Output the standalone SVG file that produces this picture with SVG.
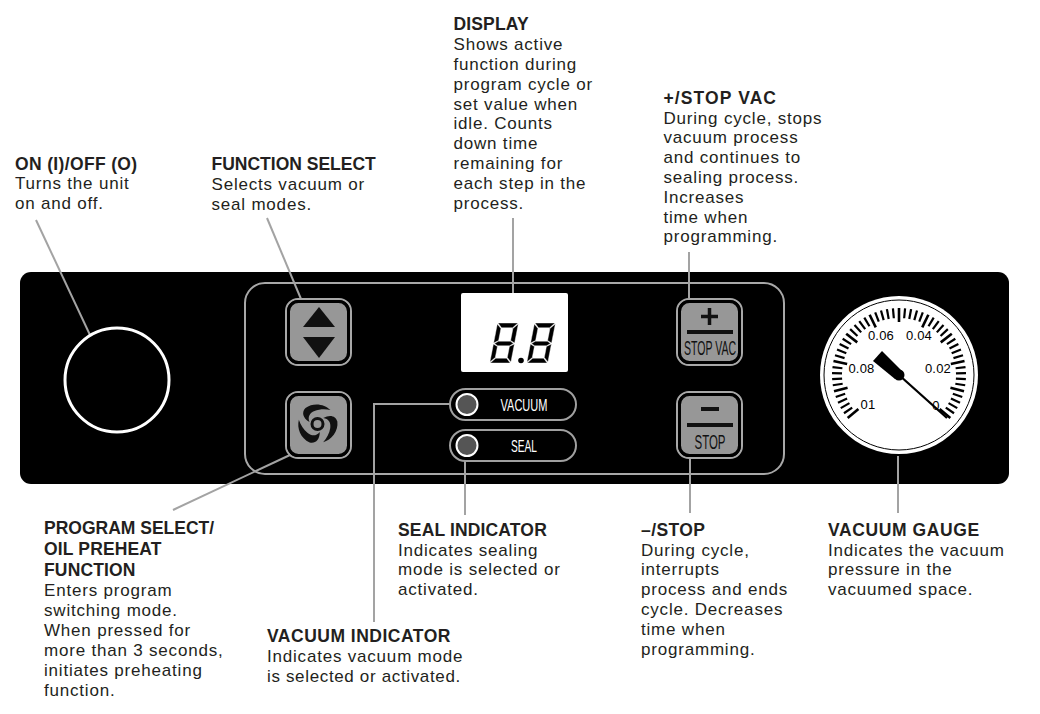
<svg xmlns="http://www.w3.org/2000/svg" xmlns:xlink="http://www.w3.org/1999/xlink" width="1040" height="714" viewBox="0 0 1040 714">
<style>
text{font-family:"Liberation Sans",Arial,sans-serif;font-size:17px;fill:#231f20;letter-spacing:.8px}
.b{font-weight:700;font-size:17.5px;letter-spacing:.15px}
.lead{fill:none;stroke:#a3a3a3;stroke-width:2}
.btn{fill:#979797;stroke:#000;stroke-width:3}
.btno{fill:none;stroke:#a8a8a8;stroke-width:2}
.pill{fill:#000;stroke:#a0a0a0;stroke-width:2}
.led{fill:#555;stroke:#fff;stroke-width:2}
.lab{fill:#fff;font-size:17px;letter-spacing:0;text-anchor:middle}
.key{fill:#111;font-size:21px;letter-spacing:0;text-anchor:middle}
.gn{fill:#000;font-size:13px;letter-spacing:.2px;text-anchor:middle}
.seg{fill:#000;stroke:#fff;stroke-width:.4}
.mi{stroke:#000;stroke-width:2.200}
.ma{stroke:#000;stroke-width:2.600}
</style>
<defs>
<line id="mi" class="mi" x1="899" y1="308" x2="899" y2="318"/>
<line id="ma" class="ma" x1="899" y1="308" x2="899" y2="322"/>
<g id="d8">
<path class="seg" d="M0.500 0H20.500L16 4.800H5Z"/>
<path class="seg" d="M0 1L4.500 5.500V17.500L0 20Z"/>
<path class="seg" d="M21 1L16.500 5.500V17.500L21 20Z"/>
<path class="seg" d="M1 20.500L4.500 18.200H16.500L20 20.500L16.500 22.800H4.500Z"/>
<path class="seg" d="M0 21L4.500 23.500V34.500L0 39Z"/>
<path class="seg" d="M21 21L16.500 23.500V34.500L21 39Z"/>
<path class="seg" d="M0.500 40H20.500L16 35.200H5Z"/>
</g>
<path id="blade" d="M13-14C7-20-4-22-12-16C-16-12-15-6-8-2C-10-7-8-11-3-13C2-15 8-15 13-14Z" fill="#111"/>
</defs>

<rect id="panel" x="20" y="272" width="989" height="212" rx="11" fill="#000"/>
<rect id="inner-frame" x="245" y="283" width="539" height="191" rx="20" fill="none" stroke="#a8a8a8" stroke-width="2"/>

<g id="connectors">
<path class="lead" d="M36 220L90 335"/>
<path class="lead" d="M267 218L301 299"/>
<path class="lead" d="M513 218V293"/>
<path class="lead" d="M689 252V298"/>
<path class="lead" d="M173 510L290 455"/>
<path class="lead" d="M374 622V404H450"/>
<path class="lead" d="M465 460V515"/>
<path class="lead" d="M690 458V513"/>
<path class="lead" d="M898 456V513"/>
</g>

<g id="power"><circle cx="117" cy="380" r="52" fill="#000" stroke="#fff" stroke-width="3"/></g>

<g id="function-select">
<rect class="btno" x="286" y="299" width="65" height="66" rx="12"/>
<rect class="btn" x="288.500" y="301.500" width="60" height="61" rx="10"/>
<path d="M319 307L303 327H335Z" fill="#111"/><path d="M303 337H335L319 358Z" fill="#111"/>
</g>

<g id="program-select">
<rect class="btno" x="286" y="392" width="65" height="66" rx="12"/>
<rect class="btn" x="288.500" y="394.500" width="60" height="61" rx="10"/>
<g transform="translate(317.500 424)">
<use href="#blade" xlink:href="#blade"/>
<use href="#blade" xlink:href="#blade" transform="rotate(120)"/>
<use href="#blade" xlink:href="#blade" transform="rotate(240)"/>
<circle r="5.500" fill="none" stroke="#111" stroke-width="3"/>
</g>
</g>

<g id="display">
<rect x="461" y="293" width="107" height="79" rx="2" fill="#fff"/>
<g transform="translate(497.500 323) skewX(-11)"><use href="#d8" xlink:href="#d8"/><use href="#d8" xlink:href="#d8" transform="translate(37 0)"/></g>
<circle cx="521" cy="360.500" r="2.800" fill="#000"/>
</g>

<g id="vacuum-indicator">
<rect class="pill" x="450" y="389" width="126" height="31" rx="15.500"/>
<circle class="led" cx="467" cy="404.500" r="10.500"/>
<text class="lab" x="524" y="411" textLength="47" lengthAdjust="spacingAndGlyphs">VACUUM</text>
</g>
<g id="seal-indicator">
<rect class="pill" x="450" y="430" width="126" height="31" rx="15.500"/>
<circle class="led" cx="467" cy="445.500" r="10.500"/>
<text class="lab" x="524" y="451.500" textLength="26" lengthAdjust="spacingAndGlyphs">SEAL</text>
</g>

<g id="plus-button">
<rect class="btno" x="677" y="299" width="65" height="66" rx="12"/>
<rect class="btn" x="679.500" y="301.500" width="60" height="61" rx="10"/>
<path d="M701 316.500H718M709.500 308V325" stroke="#111" stroke-width="3.500" fill="none"/>
<rect x="687" y="330" width="46" height="4" fill="#111"/>
<text class="key" x="710" y="355" textLength="52" lengthAdjust="spacingAndGlyphs">STOP VAC</text>
</g>
<g id="minus-button">
<rect class="btno" x="677" y="392" width="65" height="66" rx="12"/>
<rect class="btn" x="679.500" y="394.500" width="60" height="61" rx="10"/>
<rect x="701" y="407" width="18" height="4" fill="#111"/>
<rect x="687" y="423" width="46" height="4" fill="#111"/>
<text class="key" x="710" y="449" textLength="31" lengthAdjust="spacingAndGlyphs">STOP</text>
</g>

<g id="gauge">
<circle cx="899" cy="375" r="79" fill="#fff"/>
<circle cx="899" cy="375" r="75" fill="none" stroke="#000" stroke-width="1"/>
<g>
<use href="#ma" xlink:href="#ma"/>
<use href="#mi" xlink:href="#mi" transform="rotate(5.200 899 375)"/><use href="#mi" xlink:href="#mi" transform="rotate(10.400 899 375)"/><use href="#mi" xlink:href="#mi" transform="rotate(15.600 899 375)"/><use href="#mi" xlink:href="#mi" transform="rotate(20.800 899 375)"/>
<use href="#ma" xlink:href="#ma" transform="rotate(26 899 375)"/>
<use href="#mi" xlink:href="#mi" transform="rotate(31.200 899 375)"/><use href="#mi" xlink:href="#mi" transform="rotate(36.400 899 375)"/><use href="#mi" xlink:href="#mi" transform="rotate(41.600 899 375)"/><use href="#mi" xlink:href="#mi" transform="rotate(46.800 899 375)"/>
<use href="#ma" xlink:href="#ma" transform="rotate(52 899 375)"/>
<use href="#mi" xlink:href="#mi" transform="rotate(57.200 899 375)"/><use href="#mi" xlink:href="#mi" transform="rotate(62.400 899 375)"/><use href="#mi" xlink:href="#mi" transform="rotate(67.600 899 375)"/><use href="#mi" xlink:href="#mi" transform="rotate(72.800 899 375)"/>
<use href="#ma" xlink:href="#ma" transform="rotate(78 899 375)"/>
<use href="#mi" xlink:href="#mi" transform="rotate(83.200 899 375)"/><use href="#mi" xlink:href="#mi" transform="rotate(88.400 899 375)"/><use href="#mi" xlink:href="#mi" transform="rotate(93.600 899 375)"/><use href="#mi" xlink:href="#mi" transform="rotate(98.800 899 375)"/>
<use href="#ma" xlink:href="#ma" transform="rotate(104 899 375)"/>
<use href="#mi" xlink:href="#mi" transform="rotate(109.200 899 375)"/><use href="#mi" xlink:href="#mi" transform="rotate(114.400 899 375)"/><use href="#mi" xlink:href="#mi" transform="rotate(119.600 899 375)"/><use href="#mi" xlink:href="#mi" transform="rotate(124.800 899 375)"/>
<use href="#ma" xlink:href="#ma" transform="rotate(130 899 375)"/>
<use href="#mi" xlink:href="#mi" transform="rotate(-5.200 899 375)"/><use href="#mi" xlink:href="#mi" transform="rotate(-10.400 899 375)"/><use href="#mi" xlink:href="#mi" transform="rotate(-15.600 899 375)"/><use href="#mi" xlink:href="#mi" transform="rotate(-20.800 899 375)"/>
<use href="#ma" xlink:href="#ma" transform="rotate(-26 899 375)"/>
<use href="#mi" xlink:href="#mi" transform="rotate(-31.200 899 375)"/><use href="#mi" xlink:href="#mi" transform="rotate(-36.400 899 375)"/><use href="#mi" xlink:href="#mi" transform="rotate(-41.600 899 375)"/><use href="#mi" xlink:href="#mi" transform="rotate(-46.800 899 375)"/>
<use href="#ma" xlink:href="#ma" transform="rotate(-52 899 375)"/>
<use href="#mi" xlink:href="#mi" transform="rotate(-57.200 899 375)"/><use href="#mi" xlink:href="#mi" transform="rotate(-62.400 899 375)"/><use href="#mi" xlink:href="#mi" transform="rotate(-67.600 899 375)"/><use href="#mi" xlink:href="#mi" transform="rotate(-72.800 899 375)"/>
<use href="#ma" xlink:href="#ma" transform="rotate(-78 899 375)"/>
<use href="#mi" xlink:href="#mi" transform="rotate(-83.200 899 375)"/><use href="#mi" xlink:href="#mi" transform="rotate(-88.400 899 375)"/><use href="#mi" xlink:href="#mi" transform="rotate(-93.600 899 375)"/><use href="#mi" xlink:href="#mi" transform="rotate(-98.800 899 375)"/>
<use href="#ma" xlink:href="#ma" transform="rotate(-104 899 375)"/>
<use href="#mi" xlink:href="#mi" transform="rotate(-109.200 899 375)"/><use href="#mi" xlink:href="#mi" transform="rotate(-114.400 899 375)"/><use href="#mi" xlink:href="#mi" transform="rotate(-119.600 899 375)"/><use href="#mi" xlink:href="#mi" transform="rotate(-124.800 899 375)"/>
<use href="#ma" xlink:href="#ma" transform="rotate(-130 899 375)"/>
</g>
<text class="gn" x="881" y="340">0.06</text>
<text class="gn" x="919" y="340">0.04</text>
<text class="gn" x="861.500" y="373">0.08</text>
<text class="gn" x="938" y="373">0.02</text>
<text class="gn" x="868" y="409">01</text>
<text class="gn" x="936" y="410">0</text>
<path d="M899 375L947 418" stroke="#000" stroke-width="2.300"/>
<path d="M882 351L873 361L895 379L902 371Z" fill="#000"/>
<circle cx="899" cy="375" r="5.500" fill="#000"/>
</g>

<g id="label-display"><text class="b" x="453.500" y="30">DISPLAY</text>
<text x="453.500" y="50">Shows active</text><text x="453.500" y="70">function during</text><text x="453.500" y="90">program cycle or</text><text x="453.500" y="110">set value when</text><text x="453.500" y="129">idle. Counts</text><text x="453.500" y="149">down time</text><text x="453.500" y="169">remaining for</text><text x="453.500" y="189">each step in the</text><text x="453.500" y="209">process.</text></g>
<g id="label-stopvac"><text class="b" x="663.500" y="104" style="letter-spacing:1.100px">+/STOP VAC</text>
<text x="663.500" y="124">During cycle, stops</text><text x="663.500" y="143">vacuum process</text><text x="663.500" y="163">and continues to</text><text x="663.500" y="183">sealing process.</text><text x="663.500" y="203">Increases</text><text x="663.500" y="223">time when</text><text x="663.500" y="242">programming.</text></g>
<g id="label-power"><text class="b" x="15" y="170" style="letter-spacing:.35px">ON (I)/OFF (O)</text><text x="15" y="189">Turns the unit</text><text x="15" y="209">on and off.</text></g>
<g id="label-function"><text class="b" x="211.500" y="170" style="letter-spacing:0">FUNCTION SELECT</text><text x="211.500" y="190">Selects vacuum or</text><text x="211.500" y="210">seal modes.</text></g>
<g id="label-program"><text class="b" x="44" y="534" style="letter-spacing:0">PROGRAM SELECT/</text><text class="b" x="44" y="555">OIL PREHEAT</text><text class="b" x="44" y="576">FUNCTION</text>
<text x="44" y="596">Enters program</text><text x="44" y="616">switching mode.</text><text x="44" y="636">When pressed for</text><text x="44" y="656">more than 3 seconds,</text><text x="44" y="676">initiates preheating</text><text x="44" y="696">function.</text></g>
<g id="label-seal"><text class="b" x="398" y="536">SEAL INDICATOR</text><text x="398" y="556">Indicates sealing</text><text x="398" y="575">mode is selected or</text><text x="398" y="595">activated.</text></g>
<g id="label-vacuum"><text class="b" x="267" y="642" style="letter-spacing:.5px">VACUUM INDICATOR</text><text x="267" y="662">Indicates vacuum mode</text><text x="267" y="682" style="letter-spacing:.65px">is selected or activated.</text></g>
<g id="label-stop"><text class="b" x="641" y="536" style="letter-spacing:.4px">–/STOP</text><text x="641" y="556">During cycle,</text><text x="641" y="575">interrupts</text><text x="641" y="595">process and ends</text><text x="641" y="615">cycle. Decreases</text><text x="641" y="635">time when</text><text x="641" y="655">programming.</text></g>
<g id="label-gauge"><text class="b" x="828" y="536" style="letter-spacing:.6px">VACUUM GAUGE</text><text x="828" y="556">Indicates the vacuum</text><text x="828" y="575">pressure in the</text><text x="828" y="595">vacuumed space.</text></g>
</svg>
